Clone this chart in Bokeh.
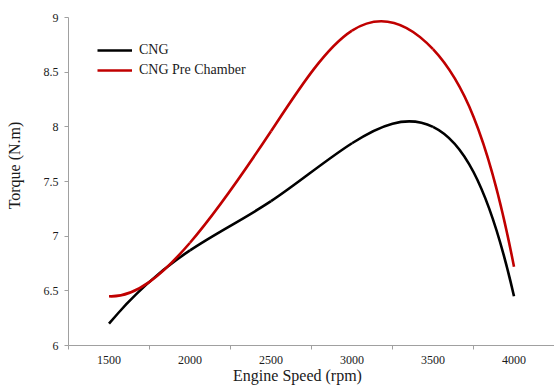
from bokeh.plotting import figure
from bokeh.models import (FixedTicker, Legend, LegendItem, Range1d,
                          ColumnDataSource, CustomJSTickFormatter)
from bokeh.embed import file_html
from bokeh.resources import INLINE

# ---- data ----
engine_speed = [1500, 2000, 2500, 3000, 3500, 4000]
torque_cng = [6.20, 6.87, 7.32, 7.85, 8.00, 6.45]
torque_cng_pre = [6.45, 6.94, 7.96, 8.88, 8.71, 6.72]
series_names = ["CNG", "CNG Pre Chamber"]
series_colors = ["#000000", "#C00000"]
y_ticks = [6, 6.5, 7, 7.5, 8, 8.5, 9]
y_tick_labels = ["6", "6.5", "7", "7.5", "8", "8.5", "9"]
x_title = "Engine Speed (rpm)"
y_title = "Torque (N.m)"

FONT = "Liberation Serif"
TEXT = "#1a1a1a"
AXIS = "#a0a0a0"
NBSP = "\u00a0"


def spline_slopes(ys):
    """Slopes (per category step) of a clamped cubic spline through the points;
    end slopes chosen so the end control polygon is straight (smoothed-line look)."""
    n = len(ys)
    cr1 = (ys[2] - ys[0]) / 2.0
    crn = (ys[-1] - ys[-3]) / 2.0
    m0 = 3 * (ys[1] - ys[0]) - 2 * cr1
    mn = 3 * (ys[-1] - ys[-2]) - 2 * crn
    k = n - 2
    a = [1.0] * k
    b = [4.0] * k
    c = [1.0] * k
    d = [3 * (ys[i + 2] - ys[i]) for i in range(k)]
    d[0] -= m0
    d[-1] -= mn
    for i in range(1, k):
        w = a[i] / b[i - 1]
        b[i] -= w * c[i - 1]
        d[i] -= w * d[i - 1]
    m = [0.0] * k
    m[-1] = d[-1] / b[-1]
    for i in range(k - 2, -1, -1):
        m[i] = (d[i] - c[i] * m[i + 1]) / b[i]
    return [m0] + m + [mn]


def smooth_segments(xs, ys):
    step_x = xs[1] - xs[0]
    t = spline_slopes(ys)
    d = dict(x0=[], y0=[], x1=[], y1=[], cx0=[], cy0=[], cx1=[], cy1=[])
    for i in range(len(xs) - 1):
        d["x0"].append(xs[i]); d["y0"].append(ys[i])
        d["x1"].append(xs[i + 1]); d["y1"].append(ys[i + 1])
        d["cx0"].append(xs[i] + step_x / 3.0); d["cy0"].append(ys[i] + t[i] / 3.0)
        d["cx1"].append(xs[i + 1] - step_x / 3.0); d["cy1"].append(ys[i + 1] - t[i + 1] / 3.0)
    return ColumnDataSource(d)


step = engine_speed[1] - engine_speed[0]
x_lo = engine_speed[0] - step / 2
x_hi = engine_speed[-1] + step / 2

W, H = 554, 386
p = figure(width=W, height=H, output_backend="svg", toolbar_location=None,
           x_range=Range1d(x_lo, x_hi), y_range=Range1d(y_ticks[0], y_ticks[-1]),
           min_border_left=68, min_border_right=0, min_border_top=17, min_border_bottom=41)
p.outline_line_color = None
p.xgrid.visible = False
p.ygrid.visible = False
p.background_fill_color = "white"
p.border_fill_color = "white"

renderers = []
for ys, color in zip([torque_cng, torque_cng_pre], series_colors):
    src = smooth_segments(engine_speed, ys)
    r = p.bezier(x0="x0", y0="y0", x1="x1", y1="y1", cx0="cx0", cy0="cy0",
                 cx1="cx1", cy1="cy1", source=src, line_color=color, line_width=2.6)
    renderers.append(r)

# x axis (category style: ticks between categories)
xa = p.xaxis[0]
minor = [x - step / 2 for x in engine_speed] + [engine_speed[-1] + step / 2]
xa.ticker = FixedTicker(ticks=engine_speed, minor_ticks=minor)
xa.major_tick_out = 0
xa.major_tick_in = 0
xa.minor_tick_out = 4
xa.minor_tick_in = 0
xa.minor_tick_line_color = AXIS
xa.axis_line_color = AXIS
xa.major_label_text_font = FONT
xa.major_label_text_font_size = "12px"
xa.major_label_text_color = TEXT
xa.major_label_text_line_height = 1.0
xa.major_label_standoff = 6
xa.axis_label = x_title + NBSP * 7
xa.axis_label_text_font = FONT
xa.axis_label_text_font_size = "16px"
xa.axis_label_text_font_style = "normal"
xa.axis_label_text_color = TEXT
xa.axis_label_text_line_height = 1.0
xa.axis_label_standoff = 0

ya = p.yaxis[0]
ya.ticker = FixedTicker(ticks=y_ticks)
ya.formatter = CustomJSTickFormatter(
    args=dict(tv=y_ticks, tl=y_tick_labels),
    code="const i = tv.indexOf(tick); return i >= 0 ? tl[i] : String(tick);")
ya.major_tick_out = 4
ya.major_tick_in = 0
ya.minor_tick_out = 0
ya.minor_tick_in = 0
ya.major_tick_line_color = AXIS
ya.axis_line_color = AXIS
ya.major_label_text_font = FONT
ya.major_label_text_font_size = "12px"
ya.major_label_text_color = TEXT
ya.major_label_standoff = 6
ya.axis_label = NBSP * 8 + y_title
ya.axis_label_text_font = FONT
ya.axis_label_text_font_size = "16px"
ya.axis_label_text_font_style = "normal"
ya.axis_label_text_color = TEXT
ya.axis_label_standoff = 18

legend = Legend(items=[LegendItem(label=n, renderers=[r]) for n, r in zip(series_names, renderers)],
                location=(24, 260), orientation="vertical",
                label_text_font=FONT, label_text_font_size="14px", label_text_color=TEXT,
                glyph_width=35, glyph_height=20, label_height=20, label_standoff=7,
                spacing=0, padding=5, margin=0,
                background_fill_alpha=0, border_line_alpha=0)
p.add_layout(legend)

open("out.html", "w").write(file_html(p, INLINE))
